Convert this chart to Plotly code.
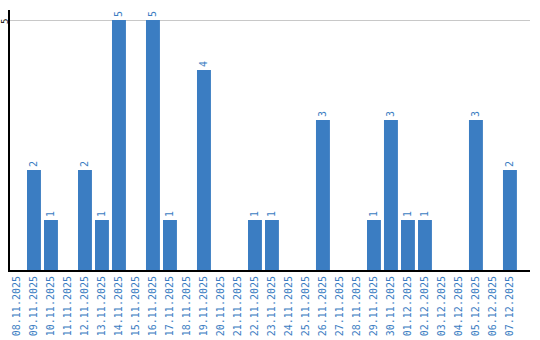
import plotly.graph_objects as go

dates = ["08.11.2025","09.11.2025","10.11.2025","11.11.2025","12.11.2025","13.11.2025",
         "14.11.2025","15.11.2025","16.11.2025","17.11.2025","18.11.2025","19.11.2025",
         "20.11.2025","21.11.2025","22.11.2025","23.11.2025","24.11.2025","25.11.2025",
         "26.11.2025","27.11.2025","28.11.2025","29.11.2025","30.11.2025","01.12.2025",
         "02.12.2025","03.12.2025","04.12.2025","05.12.2025","06.12.2025","07.12.2025"]
values = [0,2,1,0,2,1,5,0,5,1,0,4,0,0,1,1,0,0,3,0,0,1,3,1,1,0,0,3,0,2]
labels = [str(v) if v > 0 else "" for v in values]
y_tick = 5

blue = "#3b7dc2"
fig = go.Figure(go.Bar(
    x=dates, y=values, text=labels, textposition="outside", textangle=-90,
    textfont=dict(color=blue, size=10, family="DejaVu Sans Mono"),
    marker=dict(color=blue, line=dict(width=0)), cliponaxis=False,
))
fig.update_layout(
    width=540, height=340, margin=dict(l=10, r=10, t=10, b=70),
    plot_bgcolor="white", paper_bgcolor="white", showlegend=False, bargap=0.18,
    uniformtext=dict(minsize=1, mode=False),
)
fig.update_xaxes(type="category", range=[-0.41, 30.18], tickangle=-90, showline=True,
                 linecolor="black", linewidth=2,
                 tickfont=dict(color=blue, size=10, family="DejaVu Sans Mono"),
                 ticks="", showgrid=False, automargin=False)
fig.update_yaxes(range=[0, 5.2], tickvals=[y_tick], showticklabels=False,
                 showline=True, linecolor="black", linewidth=2, showgrid=True, gridcolor="#c8c8c8",
                 zeroline=False, ticks="", automargin=False)
fig.add_annotation(text=str(y_tick), xref="paper", x=0, xanchor="center", xshift=-5,
                   yref="y", y=y_tick, yanchor="middle", yshift=-2, textangle=-90,
                   showarrow=False, font=dict(color="black", size=9, family="DejaVu Sans Mono"))
fig.write_html("out.html")
